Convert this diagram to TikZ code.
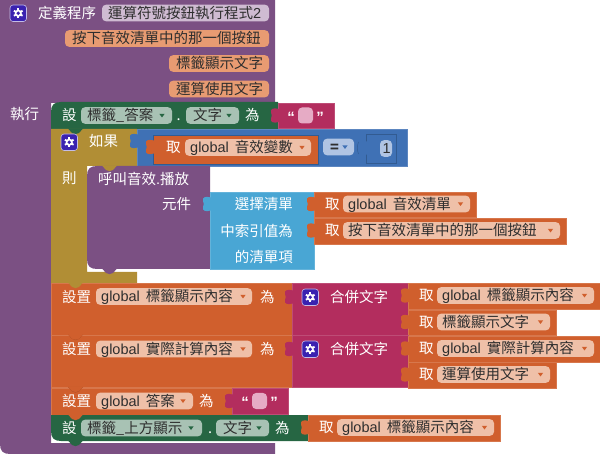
\documentclass[tikz,border=0pt]{standalone}
\usepackage{fontspec}
\setmainfont{Noto Sans CJK TC}
\newfontfamily\lsf{Liberation Sans}
\newcommand{\gl}{{\lsf global}\hspace{6pt}}
\definecolor{cpur}{HTML}{7B5083}
\definecolor{cgrn}{HTML}{266643}
\definecolor{cgld}{HTML}{B18E35}
\definecolor{cblu}{HTML}{3F71B5}
\definecolor{corg}{HTML}{D05F2D}
\definecolor{cmag}{HTML}{B32D5E}
\definecolor{clst}{HTML}{49A6D4}
\definecolor{fpur}{HTML}{CFBBD2}
\definecolor{fpar}{HTML}{E89B72}
\definecolor{fgrn}{HTML}{A8C2B4}
\definecolor{forg}{HTML}{EFC0A8}
\definecolor{fblu}{HTML}{B0C4E3}
\definecolor{fmag}{HTML}{E6ABC5}
\definecolor{cind}{HTML}{3A22B0}
\definecolor{ctxt}{HTML}{2E2E2E}
\newcounter{nn}
\tikzset{
  x=1pt,y=-1pt,
  lab/.style={anchor=west,inner sep=0pt,text height=12pt,text depth=1.4pt,text=white,font=\fontsize{14.5}{14.5}\selectfont},
  labr/.style={anchor=east,inner sep=0pt,text height=12pt,text depth=1.4pt,text=white,font=\fontsize{14.5}{14.5}\selectfont},
  ftx/.style={anchor=west,inner sep=0pt,text height=12pt,text depth=1.4pt,text=ctxt,font=\fontsize{14.5}{14.5}\selectfont},
  qt/.style={anchor=center,inner sep=0pt,text=white,font=\lsf\bfseries\fontsize{15}{15}\selectfont},
  block/.style={line width=.5pt},
  field/.style={rounded corners=4pt,line width=.4pt}
}
% block rectangle
\newcommand{\blk}[5]{\fill[#1,draw=#1!85!white,block] (#2,#3) rectangle (#4,#5);}
% left puzzle tab
\newcommand{\tabl}[3]{\fill[#1] (#2+.8,#3-6.5) .. controls (#2-4,#3-8) and (#2-8,#3-7) .. (#2-7,#3-3) .. controls (#2-6,#3-1) and (#2-6,#3+1) .. (#2-7,#3+3) .. controls (#2-8,#3+7) and (#2-4,#3+8) .. (#2+.8,#3+6.5) -- cycle;}
% downward stack notch
\newcommand{\ntch}[3]{\fill[#1] (#2,#3-.5) -- (#2+4,#3+4) .. controls (#2+6,#3+5.5) and (#2+9,#3+5.5) .. (#2+11,#3+4) -- (#2+15,#3-.5) -- cycle;}
% white label
\newcommand{\lbl}[3]{\stepcounter{nn}\node[lab] (t\thenn) at (#1,#2) {#3};}
\newcommand{\lblr}[3]{\stepcounter{nn}\node[labr] (t\thenn) at (#1,#2) {#3};}
% field with text: fill, x1, x2, yc, text x, text
\newcommand{\fld}[6]{\fill[#1,field] (#2,#4-8.3) rectangle (#3,#4+8.3);
  \stepcounter{nn}\node[ftx] (t\thenn) at (#5,#4) {#6};}
% small dropdown triangle
\newcommand{\tri}[3]{\fill[#1] (#2-2.6,#3-1.6) -- (#2+2.6,#3-1.6) -- (#2,#3+2) -- cycle;}
% gear icon
\newcommand{\gear}[2]{\fill[cind,draw=white!70!cind,line width=.6pt,rounded corners=3pt] (#1,#2) rectangle (#1+16.5,#2+16.5);
  \foreach \a in {0,60,...,300}{\draw[white,line width=1.8pt] ([shift={(\a+30:2.5)}]#1+8.25,#2+8.25) -- ([shift={(\a+30:5)}]#1+8.25,#2+8.25);}
  \fill[white] (#1+8.25,#2+8.25) circle (3.6);
  \fill[cind] (#1+8.25,#2+8.25) circle (1.8);}
% a "get" block: x1,y1,x2,y2, field x2, text, triangle x
\newcommand{\getb}[6]{\pgfmathsetmacro{\gy}{(#2+#3)/2}%
  \blk{corg}{#1}{#2}{#4}{#3}\tabl{corg}{#1}{\gy-.5}
  \lbl{#1+11}{\gy-.5}{取}
  \fld{forg}{#1+29}{#5}{\gy-.5}{#1+34}{#6}
  \tri{corg}{#5-9.5}{\gy-.5}}
% a string block
\newcommand{\strb}[4]{\blk{cmag}{#1}{#2}{#3}{#4}\pgfmathsetmacro{\sy}{(#2+#4)/2}%
  \tabl{cmag}{#1}{\sy}
  \stepcounter{nn}\node[qt] (t\thenn) at (#1+13,\sy+1.5) {“};
  \fill[fmag,rounded corners=4pt] (#1+20,\sy-8) rectangle (#1+35,\sy+8);
  \stepcounter{nn}\node[qt] (t\thenn) at (#1+42,\sy+1.5) {”};}
\begin{document}
\begin{tikzpicture}
\useasboundingbox (0,0) rectangle (600,454);
% procedure body
\fill[cpur] (0,0) -- (275,0) -- (275,103) -- (51,103) -- (51,443) -- (275,443) -- (275,454)
  -- (10,454) .. controls (3,454) and (0,451) .. (0,444) -- cycle;
\gear{10}{5}
\lbl{38}{13}{定義程序}
\fld{fpur}{102}{269}{13}{108}{運算符號按鈕執行程式{\lsf 2}}
\fld{fpar}{65}{269}{38.5}{72}{按下音效清單中的那一個按鈕}
\fld{fpar}{169}{269}{63.5}{176}{標籤顯示文字}
\fld{fpar}{169}{269}{89}{176}{運算使用文字}
\lbl{10}{114}{執行}
% first green set
\fill[cgrn] (51,129) -- (51,112) .. controls (51,105) and (54,102) .. (61,102) -- (278,102) -- (278,129) -- cycle;
\lbl{62}{115}{設}
\fld{fgrn}{81}{172}{115.5}{87}{標籤\_答案}
\tri{cgrn}{162}{115.5}
\lbl{176.5}{115}{.}
\fld{fgrn}{186}{239}{115.5}{193}{文字}
\tri{cgrn}{229}{115.5}
\lbl{245}{115}{為}
\strb{278}{103}{334}{128}
% if block
\fill[cgld] (51,129) -- (137,129) -- (137,166) -- (87,166) -- (87,272) -- (137,272) -- (137,283) -- (51,283) -- cycle;
\ntch{cgrn}{68}{129}
\gear{61}{134}
\lbl{89}{141}{如果}
\blk{cblu}{137}{129}{407}{166}
\tabl{cblu}{137}{141}
\blk{corg}{153}{135}{318}{164}
\draw[cblu!80!black,line width=.5pt] (153,135) rectangle (318,164);
\tabl{corg}{153}{147}
\lbl{166}{147}{取}
\fld{forg}{185}{311}{147.5}{190}{\gl 音效變數}
\tri{corg}{302}{147.5}
\fld{fblu}{323}{354}{147}{330}{\textbf{=}}
\tri{cblu}{345}{147}
\blk{cblu}{366}{134}{396}{163}
\draw[cblu!80!black,line width=.5pt] (366,134) rectangle (396,163);
\tabl{cblu}{366}{148}
\draw[cblu!80!black,line width=.5pt] (358.5,142) .. controls (357,146) and (357,150) .. (358.5,154);
\fld{fblu}{380}{392}{148.5}{382.5}{{\lsf 1}}
\lbl{62}{178}{則}
% procedure call
\fill[cpur] (87,176) .. controls (87,169) and (90,166) .. (97,166) -- (210,166) -- (210,269) -- (97,269) .. controls (90,269) and (87,266) .. (87,259) -- cycle;
\ntch{cgld}{102}{166}
\ntch{cpur}{102}{269}
\lbl{98}{179}{呼叫音效{\lsf .}播放}
\lbl{162}{204}{元件}
% list block
\blk{clst}{210}{192}{314}{269}
\tabl{clst}{210}{204}
\lblr{293}{204}{選擇清單}
\lblr{293}{231}{中索引值為}
\lblr{293}{257}{的清單項}
\getb{314}{192}{217}{476}{470}{\gl 音效清單}
\getb{314}{218}{244}{566}{560}{按下音效清單中的那一個按鈕}
% set rows
\blk{corg}{51}{283}{292}{335}
\ntch{cgld}{68}{283}
\lbl{62}{297}{設置}
\fld{forg}{96}{252}{296.5}{101}{\gl 標籤顯示內容}
\tri{corg}{243}{296.5}
\lbl{260}{297}{為}
\blk{cmag}{292}{283}{408}{335}
\tabl{cmag}{292}{297}
\gear{302}{289}
\lbl{330}{297}{合併文字}
\getb{408}{283}{309}{600}{594}{\gl 標籤顯示內容}
\getb{408}{310}{335}{556}{550}{標籤顯示文字}
\blk{corg}{51}{335}{292}{387}
\ntch{corg!85!black}{68}{335}
\ntch{corg}{68}{334.6}
\lbl{62}{349}{設置}
\fld{forg}{96}{252}{349}{101}{\gl 實際計算內容}
\tri{corg}{243}{349}
\lbl{260}{349}{為}
\blk{cmag}{292}{335}{408}{387}
\tabl{cmag}{292}{349}
\gear{302}{341}
\lbl{330}{349}{合併文字}
\getb{408}{336}{362}{600}{594}{\gl 實際計算內容}
\getb{408}{362}{388}{556}{550}{運算使用文字}
\blk{corg}{51}{388}{232}{415}
\ntch{corg!85!black}{68}{387.5}
\ntch{corg}{68}{387}
\lbl{62}{401}{設置}
\fld{forg}{96}{193}{401}{101}{\gl 答案}
\tri{corg}{183}{401}
\lbl{199}{401}{為}
\strb{232}{388}{288}{414}
% last green set
\fill[cgrn] (51,415) -- (308,415) -- (308,441) -- (61,441) .. controls (54,441) and (51,438) .. (51,431) -- cycle;
\ntch{corg}{68}{415}
\ntch{cgrn}{68}{441}
\lbl{62}{428}{設}
\fld{fgrn}{81}{202}{428}{87}{標籤\_上方顯示}
\tri{cgrn}{191}{428}
\lbl{208}{428}{.}
\fld{fgrn}{216}{269}{428}{223}{文字}
\tri{cgrn}{259}{428}
\lbl{275}{428}{為}
\getb{308}{415}{441}{500}{494}{\gl 標籤顯示內容}
\end{tikzpicture}
\end{document}
